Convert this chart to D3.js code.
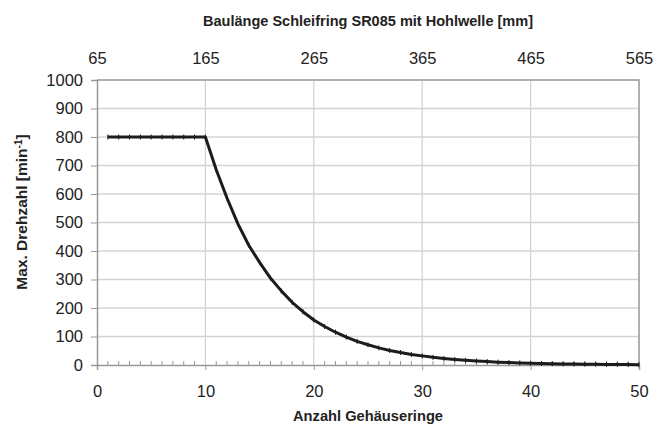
<!DOCTYPE html>
<html>
<head>
<meta charset="utf-8">
<script src="https://cdn.jsdelivr.net/npm/d3@7"></script>
<style>
  body { margin: 0; background: #fff; }
  svg { display: block; }
  .tick text { font-family: "Liberation Sans", Arial, sans-serif; font-size: 16.5px; fill: #222; }
  .title { font-family: "Liberation Sans", Arial, sans-serif; font-weight: bold; font-size: 15.5px; fill: #222; }
</style>
</head>
<body>
<svg width="667" height="427"></svg>
<script>
// Anzahl Gehaeuseringe (x) and max. Drehzahl (y)
var rings = d3.range(1, 51);
var speed = [800, 800, 800, 800, 800, 800, 800, 800, 800, 800,
             685, 585, 495, 420, 360, 305, 260, 220, 187, 158,
             135, 115, 98, 83, 71, 60, 51, 44, 37, 32,
             27, 23, 19.5, 16.5, 14, 12, 10, 8.7, 7.4, 6.3,
             5.3, 4.5, 3.8, 3.3, 2.8, 2.4, 2, 1.7, 1.5, 1.2];
var xTicks = [0, 10, 20, 30, 40, 50];
var topTickLabels = ["65", "165", "265", "365", "465", "565"];
var yTicks = [0, 100, 200, 300, 400, 500, 600, 700, 800, 900, 1000];

var margin = {top: 80, right: 28, bottom: 62, left: 97};
var svg = d3.select("svg");
var width = 667 - margin.left - margin.right;
var height = 427 - margin.top - margin.bottom;

var x = d3.scaleLinear().domain([0, 50]).range([0, width]);
var y = d3.scaleLinear().domain([0, 1000]).range([height, 0]);

var g = svg.append("g").attr("transform", "translate(" + margin.left + "," + margin.top + ")");

// grid
g.selectAll(".hgrid").data(yTicks.slice(1)).enter().append("line")
  .attr("x1", 0).attr("x2", width)
  .attr("y1", function(d) { return y(d); }).attr("y2", function(d) { return y(d); })
  .attr("stroke", "#d4d4d4").attr("stroke-width", 1.3);
g.selectAll(".vgrid").data(xTicks.slice(1)).enter().append("line")
  .attr("y1", 0).attr("y2", height)
  .attr("x1", function(d) { return x(d); }).attr("x2", function(d) { return x(d); })
  .attr("stroke", "#d4d4d4").attr("stroke-width", 1.3);

// border top / right
g.append("path")
  .attr("d", "M0,0H" + width + "V" + height)
  .attr("fill", "none").attr("stroke", "#a0a0a0").attr("stroke-width", 1.5);

// left axis
var yAxis = g.append("g").call(d3.axisLeft(y).tickValues(yTicks).tickSize(6).tickPadding(8)
  .tickFormat(d3.format("d")));
yAxis.select(".domain").attr("stroke", "#999").attr("stroke-width", 1.5);
yAxis.selectAll(".tick line").attr("stroke", "#999");

// bottom axis: major ticks down
var xAxis = g.append("g").attr("transform", "translate(0," + height + ")")
  .call(d3.axisBottom(x).tickValues(xTicks).tickSize(5).tickPadding(15));
xAxis.select(".domain").attr("stroke", "#999").attr("stroke-width", 1.5);
xAxis.selectAll(".tick line").attr("stroke", "#999");

// minor ticks up
g.append("g").attr("transform", "translate(0," + height + ")")
  .selectAll("line").data(rings.filter(function(d) { return d % 10 !== 0; })).enter().append("line")
  .attr("x1", function(d) { return x(d); }).attr("x2", function(d) { return x(d); })
  .attr("y1", 0).attr("y2", -4)
  .attr("stroke", "#999");

// top axis with Baulaenge labels
var topAxis = g.append("g")
  .call(d3.axisTop(x).tickValues(xTicks).tickSize(0).tickPadding(16)
    .tickFormat(function(d, i) { return topTickLabels[i]; }));
topAxis.select(".domain").remove();

// curve
var line = d3.line()
  .x(function(d, i) { return x(rings[i]); })
  .y(function(d) { return y(d); });
g.append("path").datum(speed)
  .attr("d", line)
  .attr("fill", "none").attr("stroke", "#1c1c1c").attr("stroke-width", 3)
  .attr("stroke-linejoin", "round");

// small dash markers at data points
g.selectAll(".mk").data(speed).enter().append("line")
  .attr("x1", function(d, i) { return x(rings[i]); })
  .attr("x2", function(d, i) { return x(rings[i]); })
  .attr("y1", function(d) { return y(d) - 2.5; })
  .attr("y2", function(d) { return y(d) + 2.5; })
  .attr("stroke", "#1c1c1c").attr("stroke-width", 1);

// titles (condensed look via textLength)
svg.append("text").attr("class", "title")
  .attr("x", margin.left + width / 2).attr("y", 26).attr("text-anchor", "middle")
  .attr("textLength", 330).attr("lengthAdjust", "spacingAndGlyphs")
  .text("Baulänge Schleifring SR085 mit Hohlwelle [mm]");
svg.append("text").attr("class", "title")
  .attr("x", margin.left + width / 2).attr("y", 421).attr("text-anchor", "middle")
  .attr("textLength", 150).attr("lengthAdjust", "spacingAndGlyphs")
  .text("Anzahl Gehäuseringe");
var yt = svg.append("text").attr("class", "title")
  .attr("transform", "translate(27,212) rotate(-90)")
  .attr("text-anchor", "middle");
yt.append("tspan").text("Max. Drehzahl [min");
yt.append("tspan").attr("dy", -5).attr("font-size", 10).text("-1");
yt.append("tspan").attr("dy", 5).text("]");
</script>
</body>
</html>
